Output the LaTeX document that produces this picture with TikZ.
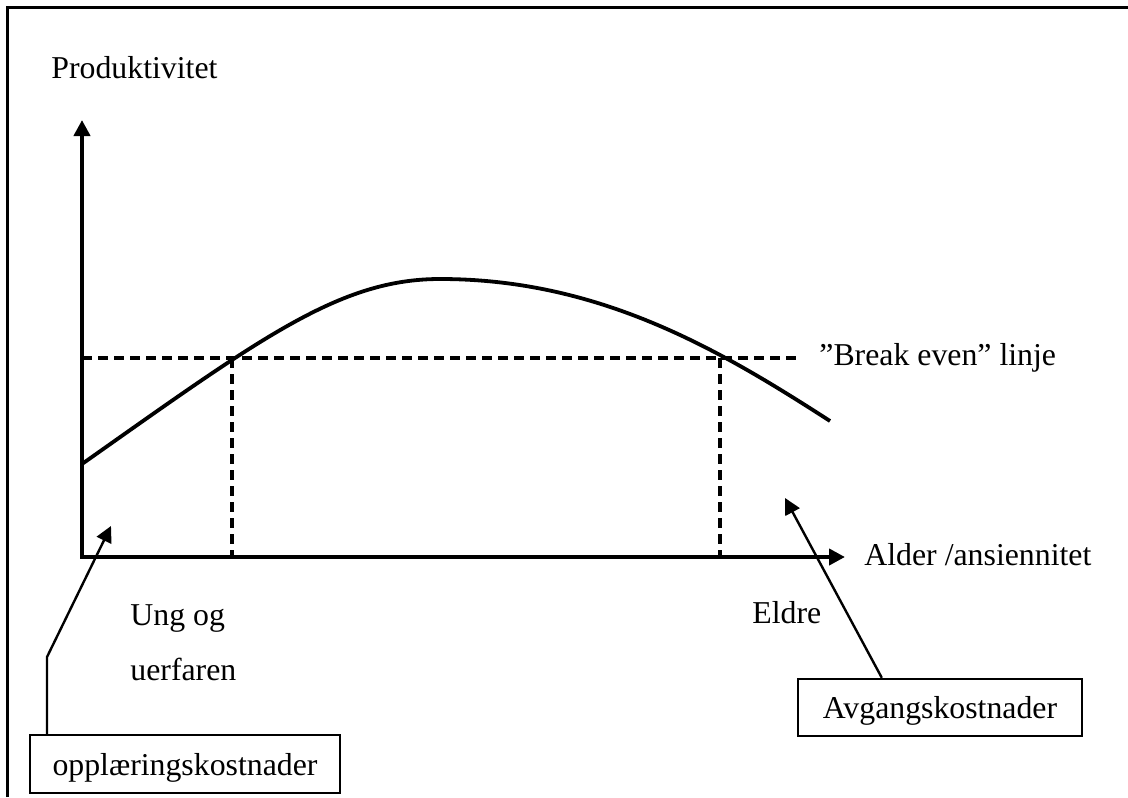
\documentclass[tikz,border=0pt]{standalone}
\usepackage{fontspec}
\setmainfont{Liberation Serif}
\usetikzlibrary{arrows.meta,calc}
\begin{document}
\begin{tikzpicture}[x=0.5pt,y=-0.5pt,
  lbl/.style={font=\fontsize{15.9}{19}\selectfont, inner sep=0pt},
  axis/.style={line width=2.1pt, {Triangle[length=8pt,width=8pt]}-{Triangle[length=8pt,width=8pt]}},
  curve/.style={line width=1.9pt},
  guide/.style={line width=1.6pt, dash pattern=on 5pt off 3pt},
  pointer/.style={line width=1.2pt, -{Triangle[length=8pt,width=8pt]}},
  costbox/.style={draw, line width=1.2pt, font=\fontsize{15.9}{19}\selectfont, inner sep=0pt, text depth=0pt}
]
\useasboundingbox (0,0) rectangle (1128,797);
% frame
\draw[line width=1.5pt] (7,797) -- (7,8) -- (1128,8);
% axes
\coordinate (O) at (82,557);
\coordinate (ytip) at (82,120);
\coordinate (xtip) at (845,557);
\draw[axis] (ytip) -- (O) -- (xtip);
% labels
\node[lbl, anchor=base west] (ylab) at (51,79) {Produktivitet};
\node[lbl, anchor=base west] (xlab) at (864,565) {Alder /ansiennitet};
\node[lbl, anchor=base west] (belab) at (819,365) {”Break even” linje};
\node[lbl, anchor=base west] (ung) at (130,625) {Ung og};
\node[lbl, anchor=base west] (uerf) at (130,680) {uerfaren};
\node[lbl, anchor=base west] (eldre) at (752,623) {Eldre};
% break-even line
\coordinate (be0) at (82,358);
\coordinate (be1) at (797,358);
\coordinate (p1) at (232,358);
\coordinate (p2) at (720,358);
\draw[guide] (be0) -- (be1);
\draw[guide] (p1) -- (p1 |- O);
\draw[guide] (p2) -- (p2 |- O);
% productivity curve
\coordinate (c0) at (82,464);
\coordinate (top) at (440,279);
\coordinate (c9) at (830,421);
\draw[curve] (c0) .. controls (262,337) and (340,279) .. (top)
                  .. controls (600,279) and (720,350) .. (c9);
% boxes
\node[costbox, minimum width=155pt, minimum height=29pt] (b1) at (185,764) {opplæringskostnader};
\node[costbox, minimum width=142pt, minimum height=28.5pt] (b2) at (940,707.5) {Avgangskostnader};
% pointers
\coordinate (k1) at (47,657);
\coordinate (t1) at (111,526);
\coordinate (t2) at (785,498);
\draw[pointer] (b1.north west -| k1) -- (k1) -- (t1);
\draw[pointer] ($(b2.north west)+(85,0)$) -- (t2);
\end{tikzpicture}
\end{document}
